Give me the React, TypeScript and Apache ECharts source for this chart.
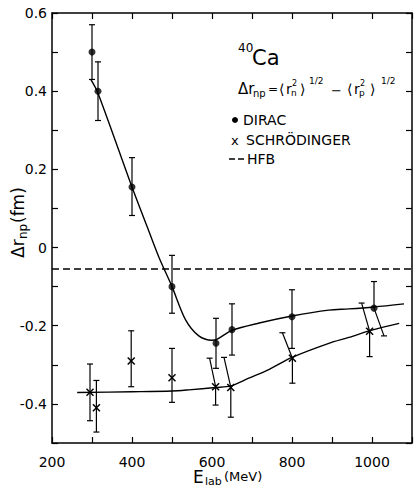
import React, { useEffect, useRef } from "react";
import * as echarts from "echarts";

// ---- data ----
const xTicks = [200, 400, 600, 800, 1000];

const diracE = [300, 315, 400, 500, 610, 650, 800, 1005];
const diracVal = [0.5, 0.4, 0.155, -0.1, -0.245, -0.21, -0.177, -0.155];
const diracHigh = [0.57, 0.475, 0.23, -0.02, -0.181, -0.144, -0.108, -0.087];
const diracLow = [0.43, 0.325, 0.082, -0.168, -0.309, -0.275, -0.258, -0.226];
const diracHighEndE = [300, 315, 400, 500, 610, 650, 800, 1005];
const diracLowEndE = [300, 315, 400, 500, 610, 650, 800, 1030];

const schrE = [295, 311, 398, 500, 609, 647, 801, 994];
const schrVal = [-0.37, -0.41, -0.29, -0.333, -0.356, -0.358, -0.283, -0.214];
const schrHigh = [-0.298, -0.34, -0.213, -0.258, -0.283, -0.281, -0.218, -0.142];
const schrLow = [-0.443, -0.472, -0.356, -0.396, -0.403, -0.434, -0.347, -0.279];
const schrHighEndE = [295, 311, 398, 500, 594, 630, 776, 974];
const schrLowEndE = [295, 311, 398, 500, 609, 647, 801, 994];

const diracCurveE = [297, 315, 400, 438, 467, 500, 534, 567, 600, 612, 650, 718, 800, 892, 942, 1005, 1080];
const diracCurveVal = [0.43, 0.395, 0.155, 0.053, -0.024, -0.1, -0.185, -0.226, -0.237, -0.235, -0.212, -0.193, -0.175, -0.16, -0.157, -0.152, -0.144];

const schrCurveE = [263, 400, 500, 542, 609, 647, 692, 742, 800, 892, 942, 997, 1068];
const schrCurveVal = [-0.371, -0.369, -0.367, -0.364, -0.358, -0.354, -0.334, -0.312, -0.281, -0.245, -0.23, -0.212, -0.194];

const hfbE = [200, 1100];
const hfbVal = [-0.055, -0.055];

const FONT = "DejaVu Sans";

function errRender(params: any, api: any) {
  const x = api.value(0);
  const y = api.value(1);
  const lo = api.value(2);
  const hi = api.value(3);
  const loX = api.value(4);
  const hiX = api.value(5);
  const c = api.coord([x, y]);
  const pHi = api.coord([hiX, hi]);
  const pLo = api.coord([loX, lo]);
  const cap = 3;
  const style = { stroke: "#000", lineWidth: 1.2 };
  return {
    type: "group",
    children: [
      { type: "line", shape: { x1: c[0], y1: c[1], x2: pHi[0], y2: pHi[1] }, style },
      { type: "line", shape: { x1: c[0], y1: c[1], x2: pLo[0], y2: pLo[1] }, style },
      { type: "line", shape: { x1: pHi[0] - cap, y1: pHi[1], x2: pHi[0] + cap, y2: pHi[1] }, style },
      { type: "line", shape: { x1: pLo[0] - cap, y1: pLo[1], x2: pLo[0] + cap, y2: pLo[1] }, style },
    ],
  };
}

function crossRender(params: any, api: any) {
  const c = api.coord([api.value(0), api.value(1)]);
  const s = 3.5;
  const style = { stroke: "#000", lineWidth: 1.5 };
  return {
    type: "group",
    children: [
      { type: "line", shape: { x1: c[0] - s, y1: c[1] - s, x2: c[0] + s, y2: c[1] + s }, style },
      { type: "line", shape: { x1: c[0] - s, y1: c[1] + s, x2: c[0] + s, y2: c[1] - s }, style },
    ],
  };
}

function txt(text: string, x: number, y: number, size: number, extra: any = {}) {
  return {
    type: "text",
    x,
    y,
    style: {
      text,
      fill: "#000",
      fontSize: size,
      fontFamily: FONT,
      verticalAlign: "middle",
      align: "left",
      ...extra,
    },
  };
}

export default function App() {
  const ref = useRef<HTMLDivElement>(null);
  useEffect(() => {
    if (!ref.current) return;
    const chart = echarts.init(ref.current, undefined, { renderer: "svg" });

    const axisLine = { show: true, onZero: false, lineStyle: { color: "#000", width: 1.5 } };
    const tick = { show: true, inside: true, length: 6, lineStyle: { color: "#000", width: 1.2 } };

    const errData = (E: number[], V: number[], L: number[], H: number[], LE: number[], HE: number[]) =>
      E.map((e, i) => [e, V[i], L[i], H[i], LE[i], HE[i]]);

    const option: any = {
      animation: false,
      backgroundColor: "#fff",
      grid: { left: 52, right: 2, top: 13, bottom: 47, containLabel: false },
      xAxis: [
        {
          type: "value",
          min: 200,
          max: 1100,
          interval: 100,
          axisLine,
          axisTick: tick,
          splitLine: { show: false },
          axisLabel: {
            color: "#000",
            fontSize: 14,
            fontFamily: FONT,
            margin: 12,
            formatter: (v: number) => (xTicks.includes(v) ? String(v) : ""),
          },
        },
        {
          type: "value",
          position: "top",
          min: 200,
          max: 1100,
          interval: 100,
          axisLine,
          axisTick: tick,
          splitLine: { show: false },
          axisLabel: { show: false },
        },
      ],
      yAxis: [
        {
          type: "value",
          min: -0.5,
          max: 0.6,
          interval: 0.1,
          axisLine,
          axisTick: tick,
          splitLine: { show: false },
          axisLabel: {
            color: "#000",
            fontSize: 14,
            fontFamily: FONT,
            margin: 5,
            formatter: (v: number) => {
              const k = Math.round(v * 10);
              if (k % 2 !== 0 || k === -5) return "";
              return k === 0 ? "0" : (k / 10).toFixed(1);
            },
          },
        },
        {
          type: "value",
          position: "right",
          min: -0.5,
          max: 0.6,
          interval: 0.1,
          axisLine,
          axisTick: tick,
          splitLine: { show: false },
          axisLabel: { show: false },
        },
      ],
      series: [
        {
          type: "line",
          data: diracCurveE.map((e, i) => [e, diracCurveVal[i]]),
          smooth: 0.3,
          symbol: "none",
          lineStyle: { color: "#000", width: 1.4 },
          z: 2,
        },
        {
          type: "line",
          data: schrCurveE.map((e, i) => [e, schrCurveVal[i]]),
          smooth: 0.3,
          symbol: "none",
          lineStyle: { color: "#000", width: 1.4 },
          z: 2,
        },
        {
          type: "line",
          data: hfbE.map((e, i) => [e, hfbVal[i]]),
          symbol: "none",
          lineStyle: { color: "#000", width: 1.5, type: [7, 4] },
          z: 2,
        },
        {
          type: "custom",
          renderItem: errRender,
          data: errData(diracE, diracVal, diracLow, diracHigh, diracLowEndE, diracHighEndE),
          z: 3,
        },
        {
          type: "custom",
          renderItem: errRender,
          data: errData(schrE, schrVal, schrLow, schrHigh, schrLowEndE, schrHighEndE),
          z: 3,
        },
        {
          type: "scatter",
          data: diracE.map((e, i) => [e, diracVal[i]]),
          symbol: "circle",
          symbolSize: 7,
          itemStyle: { color: "#000" },
          z: 4,
        },
        {
          type: "custom",
          renderItem: crossRender,
          data: schrE.map((e, i) => [e, schrVal[i]]),
          z: 4,
        },
      ],
      graphic: [
        // 40Ca
        txt("40", 238, 48, 12),
        txt("Ca", 252, 58, 21),
        // formula
        txt("Δr", 238, 89, 15),
        txt("np", 253, 93, 10),
        txt("=", 268, 89, 12),
        txt("⟨", 279, 89, 14),
        txt("r", 286, 89, 14),
        txt("n", 291, 93, 9),
        txt("2", 292, 83, 8),
        txt("⟩", 300, 89, 14),
        txt("1/2", 309, 81, 9),
        txt("−", 331, 90, 13),
        txt("⟨", 347, 89, 14),
        txt("r", 354, 89, 14),
        txt("p", 359, 93, 9),
        txt("2", 360, 83, 8),
        txt("⟩", 370, 89, 14),
        txt("1/2", 381, 81, 9),
        // legend
        { type: "circle", shape: { cx: 235, cy: 120, r: 3 }, style: { fill: "#000" } },
        txt("DIRAC", 243, 120, 14),
        txt("x", 231, 140, 13),
        txt("SCHRÖDINGER", 246, 140, 14),
        { type: "line", shape: { x1: 229, y1: 159, x2: 235, y2: 159 }, style: { stroke: "#000", lineWidth: 1.5 } },
        { type: "line", shape: { x1: 238, y1: 159, x2: 244, y2: 159 }, style: { stroke: "#000", lineWidth: 1.5 } },
        txt("HFB", 247, 159, 14),
        // x axis name
        txt("E", 193, 477, 17),
        txt("lab", 205, 481, 11),
        txt("(MeV)", 224, 476, 13),
        // y axis name (rotated)
        {
          type: "group",
          x: 18,
          y: 258,
          rotation: Math.PI / 2,
          children: [
            txt("Δr", 0, 0, 17),
            txt("np", 19, 5, 12),
            txt("(fm)", 35, 0, 17),
          ],
        },
      ],
    };
    chart.setOption(option);
    return () => chart.dispose();
  }, []);
  return (
    <div
      ref={ref}
      style={{ position: "fixed", left: 0, top: 0, width: 415, height: 490, background: "#fff" }}
    />
  );
}
